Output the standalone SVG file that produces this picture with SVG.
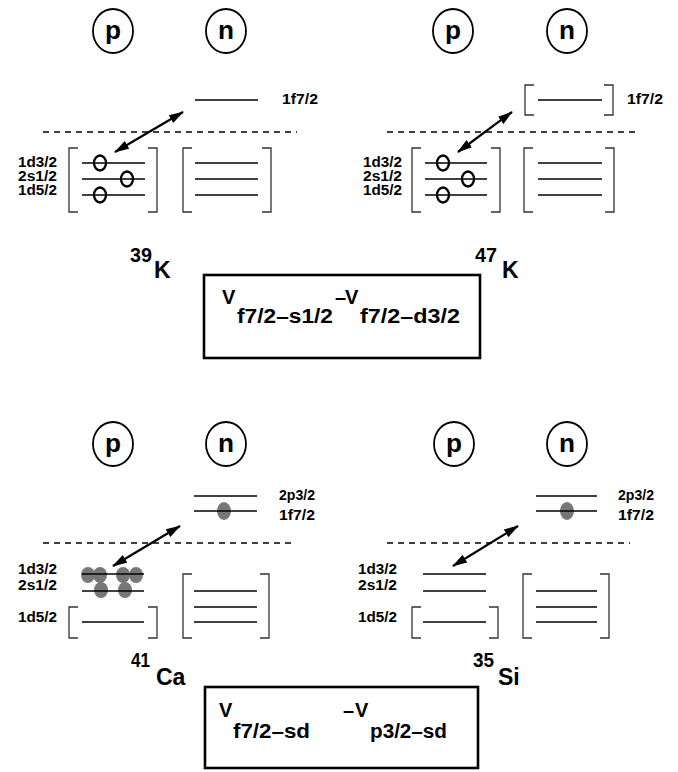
<svg xmlns="http://www.w3.org/2000/svg" width="678" height="772" viewBox="0 0 678 772">
<style>
text{font-family:"Liberation Sans",Arial,sans-serif;font-weight:bold;fill:#000}
.lbl{font-size:15px}
.stk{font-size:14px}
.pn{font-size:26px;text-anchor:middle}
.mass{font-size:21px}
.el{font-size:23px}
.v{font-size:20px}
.sub{font-size:20px}
.circ{fill:none;stroke:#000;stroke-width:1.8}
.lvl{stroke:#000;stroke-width:1.5;fill:none}
.br{stroke:#333;stroke-width:1.3;fill:none}
.dash{stroke:#000;stroke-width:1.5;stroke-dasharray:6 5}
.hole{fill:none;stroke:#000;stroke-width:2.3}
.part{fill:#777}
.box{fill:none;stroke:#000;stroke-width:2.6}
.arr{stroke:#000;stroke-width:2.2;marker-start:url(#ah);marker-end:url(#ah)}
</style>
<defs>
<marker id="ah" markerWidth="15" markerHeight="10" refX="14" refY="5" orient="auto-start-reverse" markerUnits="userSpaceOnUse">
<path d="M0,0.5 L15,5 L0,9.5 z" fill="#000"/>
</marker>
</defs>

<!-- Panel 39K -->
<g id="k39">
<g id="k39-p"><ellipse class="circ" cx="113" cy="31" rx="20" ry="22"/><text class="pn" x="113" y="39" textLength="16" lengthAdjust="spacingAndGlyphs">p</text></g>
<g id="k39-n"><ellipse class="circ" cx="226" cy="31" rx="20" ry="22"/><text class="pn" x="226" y="39" textLength="16" lengthAdjust="spacingAndGlyphs">n</text></g>
<line class="lvl" x1="195" y1="100" x2="258" y2="100"/>
<text class="lbl" x="282" y="104" textLength="36" lengthAdjust="spacingAndGlyphs">1f7/2</text>
<line class="dash" x1="43" y1="132" x2="297" y2="132"/>
<path class="br" d="M78,148 H69 V212 H78 M148,148 H157 V212 H148"/>
<line class="lvl" x1="82" y1="163" x2="145" y2="163"/>
<line class="lvl" x1="82" y1="179" x2="145" y2="179"/>
<line class="lvl" x1="82" y1="195" x2="145" y2="195"/>
<ellipse class="hole" cx="100" cy="163" rx="6" ry="7.5"/>
<ellipse class="hole" cx="127" cy="179" rx="6" ry="7.5"/>
<ellipse class="hole" cx="100" cy="195" rx="6" ry="7.5"/>
<text class="stk" x="18" y="167" textLength="39" lengthAdjust="spacingAndGlyphs">1d3/2</text>
<text class="stk" x="18" y="181" textLength="39" lengthAdjust="spacingAndGlyphs">2s1/2</text>
<text class="stk" x="18" y="195" textLength="39" lengthAdjust="spacingAndGlyphs">1d5/2</text>
<path class="br" d="M192,148 H183 V212 H192 M262,148 H271 V212 H262"/>
<line class="lvl" x1="195" y1="163" x2="258" y2="163"/>
<line class="lvl" x1="195" y1="179" x2="258" y2="179"/>
<line class="lvl" x1="195" y1="195" x2="258" y2="195"/>
<text class="mass" x="130" y="262" textLength="22" lengthAdjust="spacingAndGlyphs">39</text>
<text class="el" x="154" y="278">K</text>
</g>

<!-- Panel 47K -->
<g id="k47">
<g id="k47-p"><ellipse class="circ" cx="453" cy="31" rx="20" ry="22"/><text class="pn" x="453" y="39" textLength="16" lengthAdjust="spacingAndGlyphs">p</text></g>
<g id="k47-n"><ellipse class="circ" cx="567" cy="31" rx="20" ry="22"/><text class="pn" x="567" y="39" textLength="16" lengthAdjust="spacingAndGlyphs">n</text></g>
<path class="br" d="M534,85 H525 V115 H534 M604,85 H613 V115 H604"/>
<line class="lvl" x1="538" y1="100" x2="602" y2="100"/>
<text class="lbl" x="627" y="104" textLength="36" lengthAdjust="spacingAndGlyphs">1f7/2</text>
<line class="dash" x1="387" y1="132" x2="640" y2="132"/>
<path class="br" d="M421,148 H412 V212 H421 M491,148 H500 V212 H491"/>
<line class="lvl" x1="425" y1="163" x2="487" y2="163"/>
<line class="lvl" x1="425" y1="179" x2="487" y2="179"/>
<line class="lvl" x1="425" y1="195" x2="487" y2="195"/>
<ellipse class="hole" cx="443" cy="163" rx="6" ry="7.5"/>
<ellipse class="hole" cx="468" cy="179" rx="6" ry="7.5"/>
<ellipse class="hole" cx="443" cy="195" rx="6" ry="7.5"/>
<text class="stk" x="363" y="167" textLength="39" lengthAdjust="spacingAndGlyphs">1d3/2</text>
<text class="stk" x="363" y="181" textLength="39" lengthAdjust="spacingAndGlyphs">2s1/2</text>
<text class="stk" x="363" y="195" textLength="39" lengthAdjust="spacingAndGlyphs">1d5/2</text>
<path class="br" d="M533,148 H524 V212 H533 M605,148 H614 V212 H605"/>
<line class="lvl" x1="538" y1="163" x2="602" y2="163"/>
<line class="lvl" x1="538" y1="179" x2="602" y2="179"/>
<line class="lvl" x1="538" y1="195" x2="602" y2="195"/>
<text class="mass" x="475" y="262" textLength="22" lengthAdjust="spacingAndGlyphs">47</text>
<text class="el" x="502" y="278">K</text>
</g>

<!-- Box 1 -->
<g id="box1">
<rect class="box" x="204" y="275" width="276" height="83"/>
<text class="v" x="222" y="304">V</text>
<text class="sub" x="237" y="323" textLength="96" lengthAdjust="spacingAndGlyphs">f7/2–s1/2</text>
<text class="v" x="335" y="304">–</text>
<text class="v" x="345" y="304">V</text>
<text class="sub" x="360" y="323" textLength="100" lengthAdjust="spacingAndGlyphs">f7/2–d3/2</text>
</g>

<!-- Panel 41Ca -->
<g id="ca41">
<g id="ca41-p"><ellipse class="circ" cx="113" cy="444" rx="20" ry="22"/><text class="pn" x="113" y="452" textLength="16" lengthAdjust="spacingAndGlyphs">p</text></g>
<g id="ca41-n"><ellipse class="circ" cx="226" cy="444" rx="20" ry="22"/><text class="pn" x="226" y="452" textLength="16" lengthAdjust="spacingAndGlyphs">n</text></g>
<line class="lvl" x1="194" y1="496" x2="257" y2="496"/>
<ellipse class="part" cx="224" cy="511" rx="7" ry="9"/>
<line class="lvl" x1="194" y1="511" x2="257" y2="511"/>
<text class="lbl" x="279" y="500" textLength="36" lengthAdjust="spacingAndGlyphs">2p3/2</text>
<text class="lbl" x="279" y="520" textLength="36" lengthAdjust="spacingAndGlyphs">1f7/2</text>
<line class="dash" x1="43" y1="543" x2="295" y2="543"/>
<ellipse class="part" cx="88" cy="575" rx="7" ry="8"/>
<ellipse class="part" cx="100" cy="575" rx="7" ry="8"/>
<ellipse class="part" cx="101" cy="590" rx="7" ry="8"/>
<ellipse class="part" cx="123" cy="575" rx="7" ry="8"/>
<ellipse class="part" cx="136" cy="575" rx="7" ry="8"/>
<ellipse class="part" cx="125" cy="590" rx="7" ry="8"/>
<line class="lvl" x1="82" y1="574" x2="144" y2="574"/>
<line class="lvl" x1="82" y1="591" x2="144" y2="591"/>
<text class="stk" x="18" y="574" textLength="39" lengthAdjust="spacingAndGlyphs">1d3/2</text>
<text class="stk" x="18" y="590" textLength="39" lengthAdjust="spacingAndGlyphs">2s1/2</text>
<text class="lbl" x="18" y="622" textLength="39" lengthAdjust="spacingAndGlyphs">1d5/2</text>
<path class="br" d="M78,607 H69 V638 H78 M148,607 H157 V638 H148"/>
<line class="lvl" x1="82" y1="622" x2="144" y2="622"/>
<path class="br" d="M192,574 H183 V638 H192 M260,574 H269 V638 H260"/>
<line class="lvl" x1="194" y1="591" x2="257" y2="591"/>
<line class="lvl" x1="194" y1="607" x2="257" y2="607"/>
<line class="lvl" x1="194" y1="622" x2="257" y2="622"/>
<text class="mass" x="131" y="667" textLength="19" lengthAdjust="spacingAndGlyphs">41</text>
<text class="el" x="156" y="685">Ca</text>
</g>

<!-- Panel 35Si -->
<g id="si35">
<g id="si35-p"><ellipse class="circ" cx="454" cy="444" rx="20" ry="22"/><text class="pn" x="454" y="452" textLength="16" lengthAdjust="spacingAndGlyphs">p</text></g>
<g id="si35-n"><ellipse class="circ" cx="567" cy="444" rx="20" ry="22"/><text class="pn" x="567" y="452" textLength="16" lengthAdjust="spacingAndGlyphs">n</text></g>
<line class="lvl" x1="536" y1="496" x2="597" y2="496"/>
<ellipse class="part" cx="567" cy="511" rx="7" ry="9"/>
<line class="lvl" x1="536" y1="511" x2="597" y2="511"/>
<text class="lbl" x="618" y="500" textLength="36" lengthAdjust="spacingAndGlyphs">2p3/2</text>
<text class="lbl" x="618" y="520" textLength="36" lengthAdjust="spacingAndGlyphs">1f7/2</text>
<line class="dash" x1="387" y1="543" x2="630" y2="543"/>
<line class="lvl" x1="423" y1="574" x2="486" y2="574"/>
<line class="lvl" x1="423" y1="591" x2="486" y2="591"/>
<text class="stk" x="358" y="574" textLength="39" lengthAdjust="spacingAndGlyphs">1d3/2</text>
<text class="stk" x="358" y="590" textLength="39" lengthAdjust="spacingAndGlyphs">2s1/2</text>
<text class="lbl" x="358" y="622" textLength="39" lengthAdjust="spacingAndGlyphs">1d5/2</text>
<path class="br" d="M421,607 H412 V638 H421 M489,607 H498 V638 H489"/>
<line class="lvl" x1="423" y1="622" x2="486" y2="622"/>
<path class="br" d="M532,574 H523 V638 H532 M600,574 H609 V638 H600"/>
<line class="lvl" x1="536" y1="591" x2="597" y2="591"/>
<line class="lvl" x1="536" y1="607" x2="597" y2="607"/>
<line class="lvl" x1="536" y1="622" x2="597" y2="622"/>
<text class="mass" x="473" y="667" textLength="21" lengthAdjust="spacingAndGlyphs">35</text>
<text class="el" x="498" y="685">Si</text>
</g>

<!-- Box 2 -->
<g id="box2">
<rect class="box" x="205" y="687" width="273" height="81"/>
<text class="v" x="219" y="717">V</text>
<text class="sub" x="233" y="738" textLength="77" lengthAdjust="spacingAndGlyphs">f7/2–sd</text>
<text class="v" x="343" y="717">–</text>
<text class="v" x="355" y="717">V</text>
<text class="sub" x="370" y="738" textLength="77" lengthAdjust="spacingAndGlyphs">p3/2–sd</text>
</g>

<g id="connectors">
<line class="arr" x1="183" y1="112" x2="115" y2="152"/>
<line class="arr" x1="512" y1="112" x2="458" y2="152"/>
<line class="arr" x1="180" y1="526" x2="113" y2="566"/>
<line class="arr" x1="518" y1="526" x2="453" y2="566"/>
</g>
</svg>
